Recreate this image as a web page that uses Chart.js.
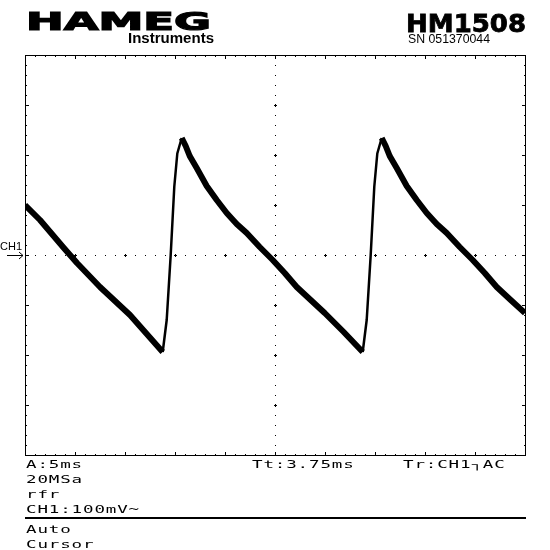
<!DOCTYPE html>
<html>
<head>
<meta charset="utf-8">
<script src="https://cdn.jsdelivr.net/npm/chart.js@4/dist/chart.umd.min.js"></script>
<style>
  html, body { margin: 0; padding: 0; background: #fff; }
  canvas { display: block; }
</style>
</head>
<body>
<canvas id="scope" width="550" height="550"></canvas>
<script>
// trace: time in ms (5 ms/div), voltage in mV (100 mV/div)
const timeMs = [0.0, 1.5, 3.8, 5.2, 7.5, 10.5, 13.77,
  14.17, 14.57, 14.93, 15.23, 15.67,
  16.07, 16.47, 17.17, 18.17, 19.17, 20.17, 21.17, 22.17, 23.47, 24.77, 25.97, 27.17, 28.57, 29.97, 31.87, 33.77,
  34.17, 34.57, 34.93, 35.23, 35.67,
  36.07, 36.47, 37.17, 38.17, 39.17, 40.17, 41.17, 42.17, 43.47, 44.77, 45.97, 47.17, 48.57, 50.0];
const voltMv = [100, 70, 16, -16, -64, -120, -194,
  -130, 0, 137, 203, 234,
  218, 198, 174, 138, 110, 84, 62, 44, 16, -10, -36, -64, -90, -116, -154, -194,
  -130, 0, 137, 203, 234,
  218, 198, 174, 138, 110, 84, 62, 44, 16, -10, -36, -64, -90, -116];

const timeRange = [0, 50];
const voltRange = [-400, 400];

const statusLeft = ['A:5ms', '20MSa', 'rfr', 'CH1:100mV~'];
const menuLines = ['Auto', 'Cursor'];
const timebaseInfo = 'Tt:3.75ms';
const triggerInfo = 'Tr:CH1\u2510AC';

// graticule: frame, edge ticks, dotted centre cross
const graticule = {
  id: 'graticule',
  beforeDatasetsDraw(chart) {
    const { ctx, chartArea: a, scales: { x, y } } = chart;
    const L = Math.round(a.left), R = Math.round(a.right);
    const T = Math.round(a.top), B = Math.round(a.bottom);
    const cx = Math.round(x.getPixelForValue(25));
    const cy = Math.round(y.getPixelForValue(0));
    ctx.save();
    ctx.fillStyle = '#000';
    ctx.fillRect(L, T, R - L + 1, 1);
    ctx.fillRect(L, B, R - L + 1, 1);
    ctx.fillRect(L, T, 1, B - T + 1);
    ctx.fillRect(R, T, 1, B - T + 1);
    for (let t = timeRange[0]; t <= timeRange[1]; t += 1) {
      const px = Math.round(x.getPixelForValue(t));
      const len = t % 5 === 0 ? 4 : 2;
      ctx.fillRect(px, T, 1, len);
      ctx.fillRect(px, B - len + 1, 1, len);
      if (t === 0 || t === 50) continue;
      if (t % 5 === 0) {
        ctx.fillRect(px - 1, cy, 3, 1);
        ctx.fillRect(px, cy - 1, 1, 3);
      } else {
        ctx.fillRect(px, cy, 1, 1);
      }
    }
    for (let v = voltRange[0]; v <= voltRange[1]; v += 20) {
      const py = Math.round(y.getPixelForValue(v));
      const len = v % 100 === 0 ? 4 : 2;
      ctx.fillRect(L, py, len, 1);
      ctx.fillRect(R - len + 1, py, len, 1);
      if (v === -400 || v === 400 || v === 0) continue;
      if (v % 100 === 0) {
        ctx.fillRect(cx - 1, py, 3, 1);
        ctx.fillRect(cx, py - 1, 1, 3);
      } else {
        ctx.fillRect(cx, py, 1, 1);
      }
    }
    ctx.restore();
  }
};

// fit a string into a given width by stretching it
function stretchText(ctx, text, x, y, font, width, heavy) {
  ctx.font = font;
  const w = ctx.measureText(text).width;
  ctx.save();
  ctx.translate(x, y);
  ctx.scale(width / w, 1);
  ctx.fillText(text, 0, 0);
  if (heavy) {
    ctx.lineWidth = heavy;
    ctx.lineJoin = 'miter';
    ctx.strokeText(text, 0, 0);
  }
  ctx.restore();
}

// scope-style mono text, fixed cell width
function monoText(ctx, text, x, y) {
  ctx.font = '10px "DejaVu Sans Mono"';
  for (let i = 0; i < text.length; i++) {
    ctx.save();
    ctx.translate(x + i * 11.4, y);
    ctx.scale(1.75, 1);
    ctx.fillText(text[i], 0, 0);
    ctx.restore();
  }
}

const labels = {
  id: 'labels',
  afterDraw(chart) {
    const { ctx, chartArea: a, scales: { y } } = chart;
    ctx.save();
    ctx.fillStyle = '#000';
    ctx.strokeStyle = '#000';
    ctx.textBaseline = 'alphabetic';
    stretchText(ctx, 'HAMEG', 26, 30, 'bold 24px "DejaVu Sans"', 185, 1.2);
    stretchText(ctx, 'Instruments', 128, 43, 'bold 15px "Liberation Sans"', 86);
    stretchText(ctx, 'HM1508', 406, 32, 'bold 25px "DejaVu Sans"', 120, 0.8);
    stretchText(ctx, 'SN 051370044', 408, 43, '12px "Liberation Sans"', 82);

    // channel marker
    const cy = Math.round(y.getPixelForValue(0));
    ctx.font = '11px "Liberation Sans"';
    ctx.fillText('CH1', 0, cy - 5);
    ctx.fillRect(7, cy, 16, 1);
    ctx.beginPath();
    ctx.moveTo(19, cy - 3); ctx.lineTo(23, cy + 0.5); ctx.lineTo(19, cy + 4);
    ctx.lineWidth = 1; ctx.stroke();

    statusLeft.forEach((s, i) => monoText(ctx, s, 26, 468 + i * 15));
    monoText(ctx, timebaseInfo, 252, 468);
    monoText(ctx, triggerInfo, 403, 468);
    ctx.fillRect(Math.round(a.left), 517, Math.round(a.right - a.left) + 1, 2);
    menuLines.forEach((s, i) => monoText(ctx, s, 26, 533 + i * 15));
    ctx.restore();
  }
};

new Chart(document.getElementById('scope'), {
  type: 'scatter',
  data: {
    datasets: [{
      data: timeMs.map((t, i) => ({ x: t, y: voltMv[i] })),
      showLine: true,
      borderColor: '#000',
      borderWidth: 6,
      borderJoinStyle: 'round',
      pointRadius: 0,
      tension: 0,
      // rising edge is thin, slow falling slope shows as a thick noise band
      segment: {
        borderWidth: c => (c.p1.parsed.y > c.p0.parsed.y ? 2.5 : 6)
      }
    }]
  },
  options: {
    responsive: false,
    animation: false,
    layout: { padding: { left: 25, right: 25, top: 55, bottom: 95 } },
    plugins: { legend: { display: false }, tooltip: { enabled: false } },
    scales: {
      x: { type: 'linear', min: timeRange[0], max: timeRange[1], display: false },
      y: { type: 'linear', min: voltRange[0], max: voltRange[1], display: false }
    }
  },
  plugins: [graticule, labels]
});
</script>
</body>
</html>
